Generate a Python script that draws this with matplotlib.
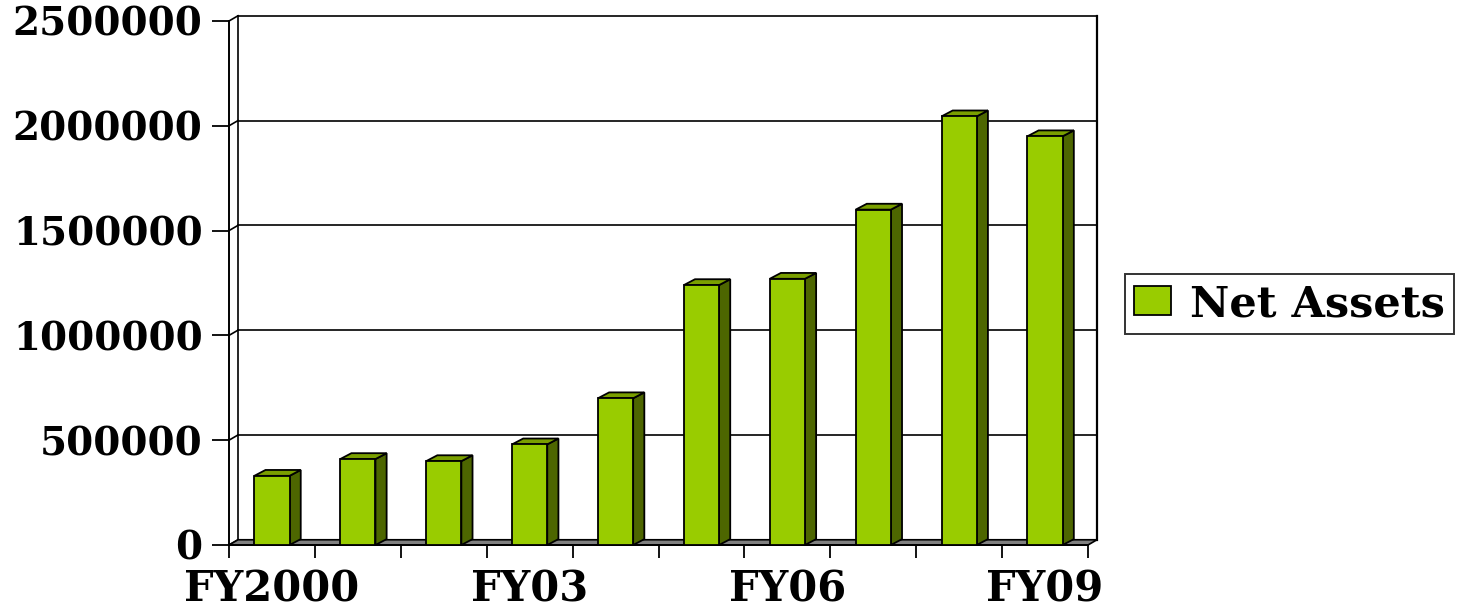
import matplotlib
matplotlib.use("Agg")
import matplotlib.pyplot as plt
from matplotlib.patches import Polygon, Rectangle, Patch

# données
years = ["FY2000", "FY01", "FY02", "FY03", "FY04", "FY05", "FY06", "FY07", "FY08", "FY09"]
net_assets = [330000, 410000, 400000, 480000, 700000, 1240000, 1270000, 1600000, 2045000, 1950000]
y_ticks = [0, 500000, 1000000, 1500000, 2000000, 2500000]
shown_labels = ["FY2000", "FY03", "FY06", "FY09"]

FRONT = "#99CC00"
SIDE = "#4D6600"
TOP = "#7A9F00"
FLOOR = "#808080"
FONT = "DejaVu Serif"

W, H = 1460, 609
fig = plt.figure(figsize=(W / 100, H / 100), dpi=100)
ax = fig.add_axes([229 / W, (H - 545) / H, (1088 - 229) / W, (545 - 21) / H])
ax.set_xlim(0, len(years))
ax.set_ylim(0, y_ticks[-1])

# décalage de profondeur (effet 3D)
wdx, wdy = 0.105, 25000   # mur du fond
bdx, bdy = 0.13, 28000    # barres
bar_w = 0.41

n = len(years)
ymax = y_ticks[-1]

# sol gris
ax.add_patch(Polygon([(0, 0), (n, 0), (n + wdx, wdy), (wdx, wdy)], closed=True,
                     facecolor=FLOOR, edgecolor="black", lw=1.2, clip_on=False, zorder=1))
# mur du fond + grille
for v in y_ticks:
    ax.plot([wdx, n + wdx], [v + wdy, v + wdy], color="black", lw=1.2, clip_on=False, zorder=0.5)
    ax.plot([0, wdx], [v, v + wdy], color="black", lw=1.2, clip_on=False, zorder=0.5)
ax.plot([wdx, wdx], [wdy, ymax + wdy], color="black", lw=1.2, clip_on=False, zorder=0.5)
ax.plot([n + wdx, n + wdx], [wdy, ymax + wdy], color="black", lw=1.6, clip_on=False, zorder=0.5)

# barres 3D
for i, v in enumerate(net_assets):
    x0 = i + 0.5 - bar_w / 2
    x1 = i + 0.5 + bar_w / 2
    ax.add_patch(Polygon([(x1, 0), (x1 + bdx, bdy), (x1 + bdx, v + bdy), (x1, v)], closed=True,
                         facecolor=SIDE, edgecolor="black", lw=1.3, zorder=3, clip_on=False))
    ax.add_patch(Polygon([(x0, v), (x1, v), (x1 + bdx, v + bdy), (x0 + bdx, v + bdy)], closed=True,
                         facecolor=TOP, edgecolor="black", lw=1.3, zorder=3, clip_on=False))
    ax.add_patch(Rectangle((x0, 0), bar_w, v, facecolor=FRONT, edgecolor="black",
                           lw=1.3, zorder=4, clip_on=False))

# axes
for s in ["top", "right"]:
    ax.spines[s].set_visible(False)
ax.spines["left"].set_linewidth(1.4)
ax.spines["bottom"].set_linewidth(1.4)
ax.spines["left"].set_bounds(0, ymax)

ax.set_yticks(y_ticks)
ax.set_yticklabels([str(v) for v in y_ticks], fontsize=28, fontweight="bold", family=FONT)
ax.tick_params(axis="y", length=12, width=1.3, pad=7)

ax.set_xticks(range(n + 1))
ax.set_xticklabels([])
ax.tick_params(axis="x", which="major", length=9, width=1.3)
ax.set_xticks([years.index(l) + 0.5 for l in shown_labels], minor=True)
ax.set_xticklabels(shown_labels, minor=True, fontsize=30, fontweight="bold", family=FONT)
ax.tick_params(axis="x", which="minor", length=0, pad=17)

# légende
leg = fig.legend(handles=[Patch(facecolor=FRONT, edgecolor="black", lw=1.3)], labels=["Net Assets"],
                 loc="center left", bbox_to_anchor=(1125 / W, 1 - 304 / H),
                 prop={"family": FONT, "weight": "bold", "size": 31},
                 frameon=True, fancybox=False, handlelength=0.87, handleheight=0.66,
                 handletextpad=0.45, borderpad=0.2, borderaxespad=0)
leg.get_frame().set_edgecolor("black")
leg.get_frame().set_linewidth(1.4)

fig.savefig("out.png", dpi=100)
